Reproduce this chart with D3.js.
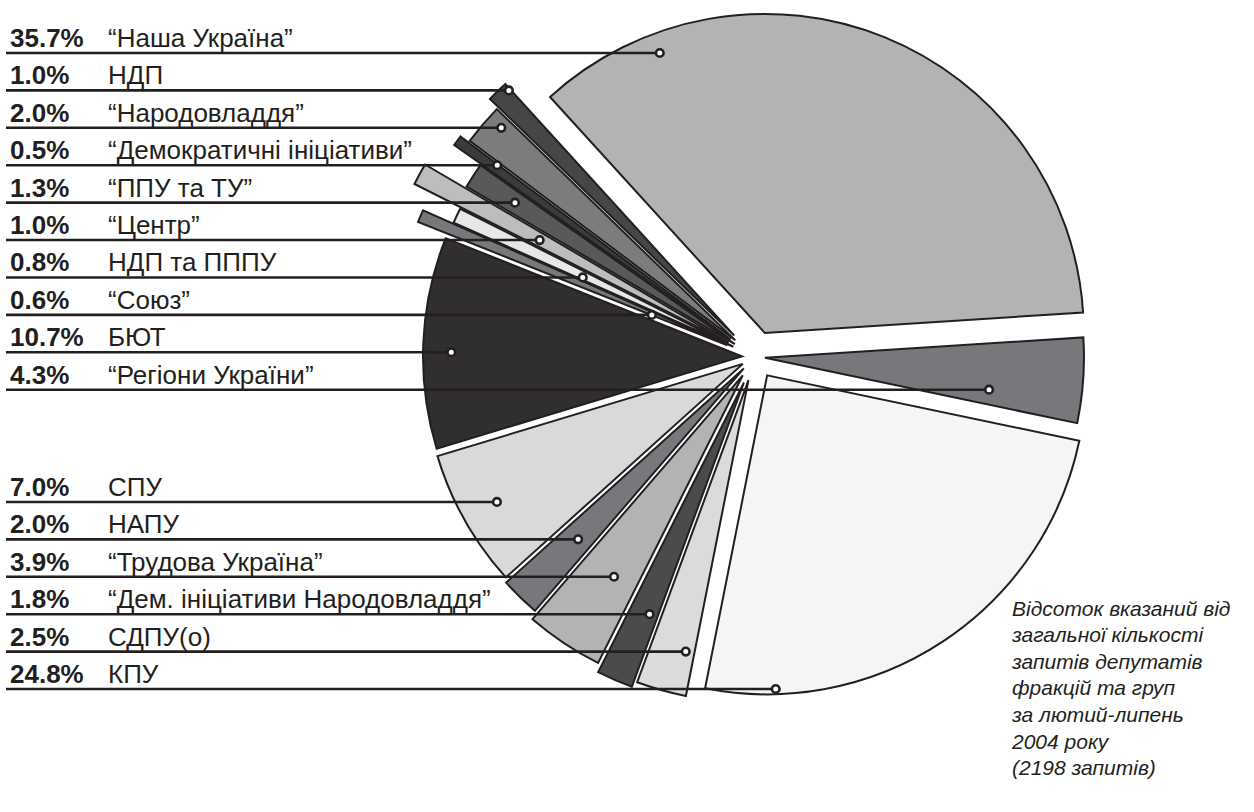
<!DOCTYPE html>
<html>
<head>
<meta charset="utf-8">
<script src="https://cdnjs.cloudflare.com/ajax/libs/d3/7.8.5/d3.min.js"></script>
<style>
  body { margin: 0; background: #fff; }
  svg { display: block; font-family: "Liberation Sans", Arial, Helvetica, sans-serif; }
</style>
</head>
<body>
<svg id="chart" width="1254" height="812"></svg>
<script>
// legend, top to bottom
var parties = ['“Наша Україна”', 'НДП', '“Народовладдя”', '“Демократичні ініціативи”', '“ППУ та ТУ”',
  '“Центр”', 'НДП та ПППУ', '“Союз”', 'БЮТ', '“Регіони України”',
  'СПУ', 'НАПУ', '“Трудова Україна”', '“Дем. ініціативи Народовладдя”', 'СДПУ(о)', 'КПУ'];
var shares = [35.7, 1.0, 2.0, 0.5, 1.3, 1.0, 0.8, 0.6, 10.7, 4.3, 7.0, 2.0, 3.9, 1.8, 2.5, 24.8];

// slices clockwise, starting with the big one at the top
var pieOrder = ['“Наша Україна”', '“Регіони України”', 'КПУ', 'СДПУ(о)', '“Дем. ініціативи Народовладдя”',
  '“Трудова Україна”', 'НАПУ', 'СПУ', 'БЮТ', '“Союз”', 'НДП та ПППУ', '“Центр”', '“ППУ та ТУ”',
  '“Демократичні ініціативи”', '“Народовладдя”', 'НДП'];

var note = ['Відсоток вказаний від', 'загальної кількості', 'запитів депутатів', 'фракцій та груп',
  'за лютий-липень', '2004 року', '(2198 запитів)'];

// look of each slice, in pieOrder
var fills   = ['#b2b3b5', '#77787b', '#f5f5f5', '#dadbdd', '#4b4b4d', '#b2b3b5', '#77787b', '#d8d9db',
               '#302e31', '#77787b', '#e6e7e8', '#bcbdbf', '#59595b', '#3b3a3c', '#7b7c7e', '#464547'];
var explode = [26, 10, 22, 24, 28, 22, 16, 14, 13, 30, 24, 30, 24, 30, 26, 30];
var reach   = [319, 319, 319, 322, 324, 322, 320, 319, 319, 333, 306, 352, 311, 338, 332, 340];
// where the leader line ends, as a fraction of the slice's angle
var dotAt   = [0.169, 0.76, 0.857, 0.2, 0.3, 0.418, 0.465, 0.504, 0.457, 0.1, 0.27, 0.47, 0.5, 0.9, 0.74, 0.92];

var ink = '#231f20';
var cx = 755, cy = 357;
var rad = Math.PI / 180;
var startDeg = -42.3;

var svg = d3.select('#chart');

var shareOf = d3.scaleOrdinal().domain(parties).range(shares);
var fillOf = d3.scaleOrdinal().domain(pieOrder).range(fills);
var explodeOf = d3.scaleOrdinal().domain(pieOrder).range(explode);
var reachOf = d3.scaleOrdinal().domain(pieOrder).range(reach);
var dotAtOf = d3.scaleOrdinal().domain(pieOrder).range(dotAt);

// legend rows: ten on top, two empty rows, six below
var rowOf = function(i) { return i < 10 ? i : i + 2; };
var rowY = d3.scaleLinear().domain([0, 17]).range([53, 689]);

var pie = d3.pie()
  .sort(null)
  .value(function(d) { return shareOf(d); })
  .startAngle(startDeg * rad)
  .endAngle(startDeg * rad + 2 * Math.PI);

var arc = d3.arc()
  .innerRadius(0)
  .outerRadius(function(d) { return reachOf(d.data); });

var slices = pie(pieOrder);
slices.forEach(function(d) {
  var mid = (d.startAngle + d.endAngle) / 2;
  var e = explodeOf(d.data);
  d.ox = cx + e * Math.sin(mid);
  d.oy = cy - e * Math.cos(mid);
});

svg.append('g')
  .attr('class', 'slices')
  .selectAll('path')
  .data(slices)
  .enter().append('path')
  .attr('transform', function(d) { return 'translate(' + d.ox + ',' + d.oy + ')'; })
  .attr('d', arc)
  .attr('fill', function(d) { return fillOf(d.data); })
  .attr('stroke', ink)
  .attr('stroke-width', 2)
  .attr('stroke-linejoin', 'miter');

// leader line end: on a ray inside the slice, at the row's height
var sliceOf = {};
slices.forEach(function(d) { sliceOf[d.data] = d; });

var legend = parties.map(function(name, i) {
  var d = sliceOf[name];
  var y = rowY(rowOf(i));
  var a = d.startAngle + dotAtOf(name) * (d.endAngle - d.startAngle);
  var t = (y - d.oy) / (-Math.cos(a));
  return { name: name, share: shares[i], y: y, x: d.ox + t * Math.sin(a) };
});

var rows = svg.append('g').attr('class', 'legend');

rows.selectAll('line')
  .data(legend)
  .enter().append('line')
  .attr('x1', 6)
  .attr('x2', function(d) { return d.x; })
  .attr('y1', function(d) { return d.y; })
  .attr('y2', function(d) { return d.y; })
  .attr('stroke', ink)
  .attr('stroke-width', 2.6);

rows.selectAll('circle')
  .data(legend)
  .enter().append('circle')
  .attr('cx', function(d) { return d.x; })
  .attr('cy', function(d) { return d.y; })
  .attr('r', 3.8)
  .attr('fill', '#fff')
  .attr('stroke', ink)
  .attr('stroke-width', 2.6);

var fmt = d3.format('.1f');

rows.selectAll('text.share')
  .data(legend)
  .enter().append('text')
  .attr('class', 'share')
  .attr('x', 10)
  .attr('y', function(d) { return d.y - 6; })
  .attr('fill', ink)
  .style('font-size', '26px')
  .style('font-weight', 'bold')
  .text(function(d) { return fmt(d.share) + '%'; });

rows.selectAll('text.name')
  .data(legend)
  .enter().append('text')
  .attr('class', 'name')
  .attr('x', 108)
  .attr('y', function(d) { return d.y - 6; })
  .attr('fill', ink)
  .style('font-size', '26px')
  .text(function(d) { return d.name; });

svg.append('g')
  .attr('class', 'note')
  .selectAll('text')
  .data(note)
  .enter().append('text')
  .attr('x', 1012)
  .attr('y', function(d, i) { return 615.5 + i * 26.6; })
  .attr('fill', ink)
  .style('font-size', '21px')
  .style('font-style', 'italic')
  .text(function(d) { return d; });
</script>
</body>
</html>
